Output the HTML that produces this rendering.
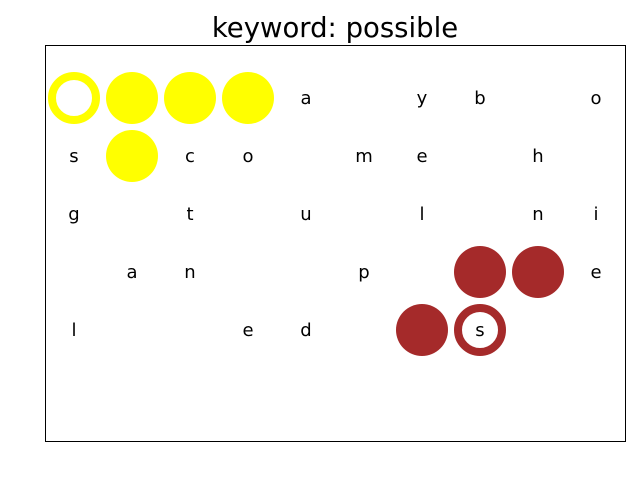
<!DOCTYPE html>
<html><head><meta charset="utf-8"><style>
html,body{margin:0;padding:0;background:#fff;}
svg text{font-family:"DejaVu Sans","Liberation Sans",sans-serif;}
</style></head><body>
<svg id="chart" width="640" height="480" xmlns="http://www.w3.org/2000/svg">
<rect x="0" y="0" width="640" height="480" fill="#fff"/>
<text x="335" y="37" font-size="27.5" text-anchor="middle" fill="#000">keyword: possible</text>
<rect x="45.5" y="45.5" width="580" height="396" fill="none" stroke="#000" stroke-width="1"/>
<g id="marks"></g>
</svg>
<script>
// data: [column, row, letter]
const letters = [
 [4,0,'a'],[6,0,'y'],[7,0,'b'],[9,0,'o'],
 [0,1,'s'],[2,1,'c'],[3,1,'o'],[5,1,'m'],[6,1,'e'],[8,1,'h'],
 [0,2,'g'],[2,2,'t'],[4,2,'u'],[6,2,'l'],[8,2,'n'],[9,2,'i'],
 [1,3,'a'],[2,3,'n'],[5,3,'p'],[9,3,'e'],
 [0,4,'l'],[3,4,'e'],[4,4,'d'],[7,4,'s']
];
// circles: [column, row, color, hollow]
const circles = [
 [0,0,'#ffff00',1],[1,0,'#ffff00',0],[2,0,'#ffff00',0],[3,0,'#ffff00',0],
 [1,1,'#ffff00',0],
 [7,3,'#a52a2a',0],[8,3,'#a52a2a',0],
 [6,4,'#a52a2a',0],[7,4,'#a52a2a',1]
];
const NS='http://www.w3.org/2000/svg';
const xPos=c=>74+c*58;
const yPos=r=>98+r*58;
const g=document.getElementById('marks');
circles.forEach(([c,r,col,hollow])=>{
 const el=document.createElementNS(NS,'circle');
 el.setAttribute('cx',xPos(c));el.setAttribute('cy',yPos(r));
 if(hollow){el.setAttribute('r',22);el.setAttribute('fill','none');el.setAttribute('stroke',col);el.setAttribute('stroke-width',8);}
 else{el.setAttribute('r',26);el.setAttribute('fill',col);}
 
 
 g.appendChild(el);
});
letters.forEach(([c,r,t])=>{
 const el=document.createElementNS(NS,'text');
 el.setAttribute('x',xPos(c));el.setAttribute('y',yPos(r)+6);
 el.setAttribute('text-anchor','middle');el.setAttribute('font-size','18');el.setAttribute('fill','#000');
 el.textContent=t;
 
 
 g.appendChild(el);
});
</script>
</body></html>
